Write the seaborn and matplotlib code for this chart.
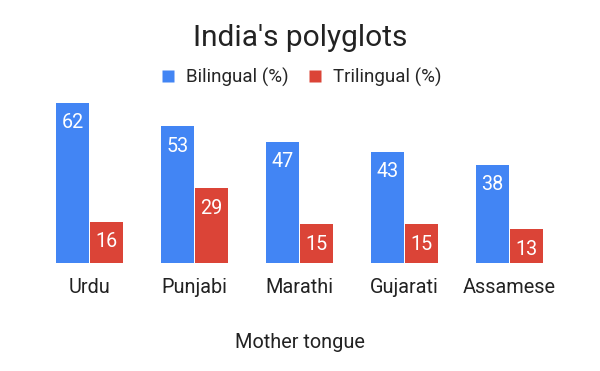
import matplotlib
matplotlib.use("Agg")
import matplotlib.pyplot as plt
import seaborn as sns
import pandas as pd

languages = ["Urdu", "Punjabi", "Marathi", "Gujarati", "Assamese"]
bilingual = [62, 53, 47, 43, 38]
trilingual = [16, 29, 15, 15, 13]
series_names = ["Bilingual (%)", "Trilingual (%)"]
colors = ["#4285F4", "#DB4437"]

df = pd.DataFrame({
    "Mother tongue": languages * 2,
    "value": bilingual + trilingual,
    "series": [series_names[0]] * len(languages) + [series_names[1]] * len(languages),
})

sns.set_style("white")
plt.rcParams['font.family'] = ['Roboto', 'DejaVu Sans']

fig = plt.figure(figsize=(6, 3.71), dpi=100)
ax = fig.add_axes([37/600, 108/371, 525/600, 160/371])
sns.barplot(data=df, x="Mother tongue", y="value", hue="series",
            palette=colors, width=0.64, gap=0.03, ax=ax, legend=False,
            saturation=1, edgecolor="none")
ax.set_ylim(0, 62)
ax.set_xlim(-0.5, len(languages) - 0.5)
for s in ax.spines.values():
    s.set_visible(False)
ax.set_yticks([])
ax.set_ylabel("")
ax.tick_params(axis="x", length=0, pad=11, labelsize=14.3, labelcolor="#222222")
ax.set_xlabel("Mother tongue", fontsize=14.3, color="#222222", labelpad=26)

for cont in ax.containers:
    for bar in cont:
        h = bar.get_height()
        ax.text(bar.get_x() + bar.get_width() / 2, h - 7.7, f"{h:.0f}",
                ha="center", va="center", color="white", fontsize=14.2)

fig.text(0.5, 1 - 38/371, "India's polyglots", ha="center", va="center",
         fontsize=21.5, color="#222222")

from matplotlib.lines import Line2D
handles = [Line2D([], [], marker="s", linestyle="none", markersize=8.5,
                  markerfacecolor=c, markeredgecolor="none") for c in colors]
fig.legend(handles, series_names, loc="center", bbox_to_anchor=(0.5, 1 - 77/371),
           ncol=2, frameon=False, fontsize=13.5, handletextpad=0.45,
           columnspacing=0.95, handlelength=1.0)

fig.savefig("out.png", dpi=100)
